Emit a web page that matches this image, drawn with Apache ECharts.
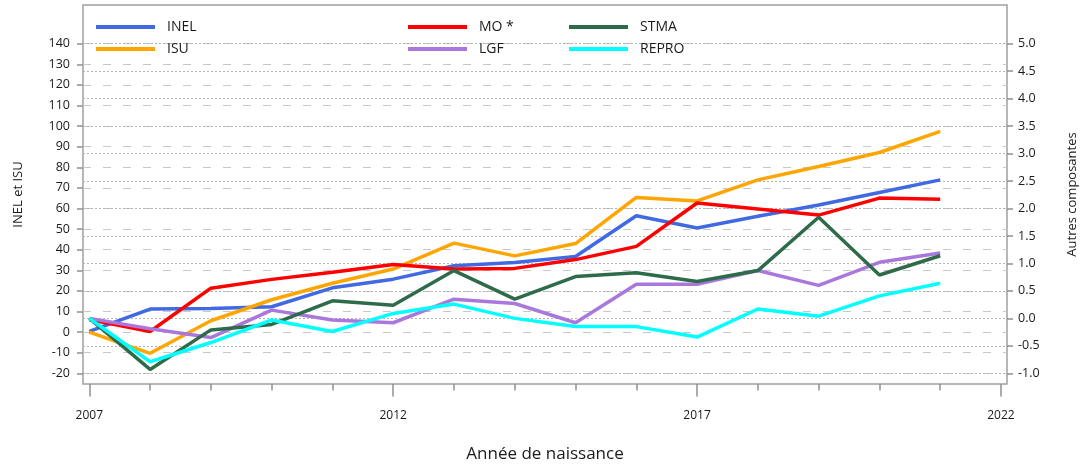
<!DOCTYPE html>
<html>
<head>
<meta charset="utf-8">
<script src="https://cdn.jsdelivr.net/npm/echarts@6/dist/echarts.min.js"></script>
<style>
  html, body { margin: 0; padding: 0; background: #fff; }
  #chart { width: 1080px; height: 464px; }
</style>
</head>
<body>
<div id="chart"></div>
<script>
// years of birth
const years = [2007, 2008, 2009, 2010, 2011, 2012, 2013, 2014, 2015, 2016, 2017, 2018, 2019, 2020, 2021]

// left axis series
const inel = [0.3, 11.2, 11.5, 12.3, 21.5, 25.7, 32.2, 33.8, 36.7, 56.5, 50.5, 56.2, 61.7, 67.8, 73.9]
const isu = [0, -10.3, 5.5, 15.7, 23.7, 30.6, 43.2, 37.0, 43.0, 65.4, 63.7, 73.9, 80.4, 87.2, 97.4]

// right axis series
const mo = [-0.02, -0.24, 0.55, 0.71, 0.84, 0.98, 0.90, 0.91, 1.07, 1.31, 2.10, 1.99, 1.88, 2.19, 2.17]
const lgf = [0.0, -0.19, -0.35, 0.15, -0.03, -0.08, 0.35, 0.27, -0.08, 0.62, 0.62, 0.87, 0.60, 1.02, 1.19]
const stma = [0.0, -0.93, -0.21, -0.11, 0.32, 0.24, 0.87, 0.35, 0.76, 0.83, 0.67, 0.87, 1.84, 0.79, 1.14]
const repro = [0.0, -0.79, -0.44, -0.03, -0.24, 0.09, 0.26, 0.0, -0.15, -0.15, -0.34, 0.17, 0.04, 0.41, 0.64]

// ticks
const xMajorTicks = [2007, 2012, 2017, 2022]
const xMinorTicks = [2007, 2008, 2009, 2010, 2011, 2012, 2013, 2014, 2015, 2016, 2017, 2018, 2019, 2020, 2021, 2022]
const leftTicks = [-20, -10, 0, 10, 20, 30, 40, 50, 60, 70, 80, 90, 100, 110, 120, 130, 140]
const rightTicks = [-1.0, -0.5, 0.0, 0.5, 1.0, 1.5, 2.0, 2.5, 3.0, 3.5, 4.0, 4.5, 5.0]

const FONT = 'Open Sans'
const chart = echarts.init(document.getElementById('chart'))

const pairs = arr => years.map((y, i) => [y, arr[i]])

const mkSeries = (name, arr, color, axis) => ({
  name: name,
  type: 'line',
  yAxisIndex: axis,
  data: pairs(arr),
  showSymbol: false,
  lineStyle: { color: color, width: 3.5 },
  itemStyle: { color: color }
})

const mkLegend = (left, names) => ({
  orient: 'vertical',
  left: left,
  top: 19,
  padding: 0,
  itemWidth: 59,
  itemHeight: 4,
  itemGap: 6,
  icon: 'rect',
  data: names,
  textStyle: {
    fontFamily: FONT,
    fontSize: 14,
    color: '#1a1a1a',
    lineHeight: 16,
    padding: [0, 0, 0, 7]
  }
})

const option = {
  animation: false,
  backgroundColor: '#fff',
  legend: [
    mkLegend(96, ['INEL', 'ISU']),
    mkLegend(408, ['MO *', 'LGF']),
    mkLegend(569, ['STMA', 'REPRO'])
  ],
  grid: {
    left: 83,
    right: 73,
    top: 5,
    bottom: 80,
    outerBoundsMode: 'none',
    containLabel: false,
    show: true,
    borderColor: '#a0a0a0',
    borderWidth: 1.5
  },
  xAxis: [
    {
      type: 'value',
      min: 2006.896,
      max: 2022.099,
      position: 'bottom',
      name: 'Année de naissance',
      nameLocation: 'middle',
      nameGap: 62,
      nameTextStyle: { fontFamily: FONT, fontSize: 17, color: '#1a1a1a' },
      axisLine: { show: false, onZero: false },
      axisTick: {
        show: true,
        customValues: xMajorTicks,
        length: 12.5,
        lineStyle: { color: '#909090', width: 1.5 }
      },
      axisLabel: {
        customValues: xMajorTicks,
        margin: 26,
        fontFamily: FONT,
        fontSize: 12,
        color: '#1a1a1a',
        formatter: v => String(v)
      },
      splitLine: { show: false }
    },
    {
      type: 'value',
      min: 2006.896,
      max: 2022.099,
      position: 'bottom',
      axisLine: { show: false, onZero: false },
      axisTick: {
        show: true,
        customValues: xMinorTicks,
        length: 6.5,
        lineStyle: { color: '#909090', width: 1.5 }
      },
      axisLabel: { show: false },
      splitLine: { show: false }
    }
  ],
  yAxis: [
    {
      type: 'value',
      position: 'left',
      min: -25.2,
      max: 158.8,
      name: 'INEL et ISU',
      nameLocation: 'middle',
      nameRotate: 90,
      nameGap: 58,
      nameTextStyle: { fontFamily: FONT, fontSize: 13, color: '#1a1a1a' },
      axisLine: { show: false, onZero: false },
      axisTick: {
        show: true,
        customValues: leftTicks,
        length: 6,
        lineStyle: { color: '#909090', width: 1.5 }
      },
      axisLabel: {
        customValues: leftTicks,
        margin: 13,
        fontFamily: FONT,
        fontSize: 12.5,
        color: '#1a1a1a'
      },
      splitLine: {
        show: true,
        lineStyle: { color: '#c8c8c8', type: [8, 12], width: 1.2 }
      }
    },
    {
      type: 'value',
      position: 'right',
      min: -1.195,
      max: 5.705,
      name: 'Autres composantes',
      nameLocation: 'middle',
      nameRotate: 90,
      nameGap: 59,
      nameTextStyle: { fontFamily: FONT, fontSize: 13, color: '#1a1a1a' },
      axisLine: { show: false, onZero: false },
      axisTick: {
        show: true,
        customValues: rightTicks,
        length: 6,
        lineStyle: { color: '#909090', width: 1.5 }
      },
      axisLabel: {
        customValues: rightTicks,
        margin: 11,
        fontFamily: FONT,
        fontSize: 12.5,
        color: '#1a1a1a',
        formatter: v => v.toFixed(1)
      },
      splitLine: {
        show: true,
        lineStyle: { color: '#b4b4b4', type: [2, 2], width: 1 }
      }
    }
  ],
  series: [
    mkSeries('INEL', inel, '#4169E1', 0),
    mkSeries('ISU', isu, '#FFA500', 0),
    mkSeries('MO *', mo, '#FF0000', 1),
    mkSeries('LGF', lgf, '#AA78DC', 1),
    mkSeries('STMA', stma, '#2E6B4A', 1),
    mkSeries('REPRO', repro, '#00FFFF', 1)
  ]
}

chart.setOption(option)
</script>
</body>
</html>
